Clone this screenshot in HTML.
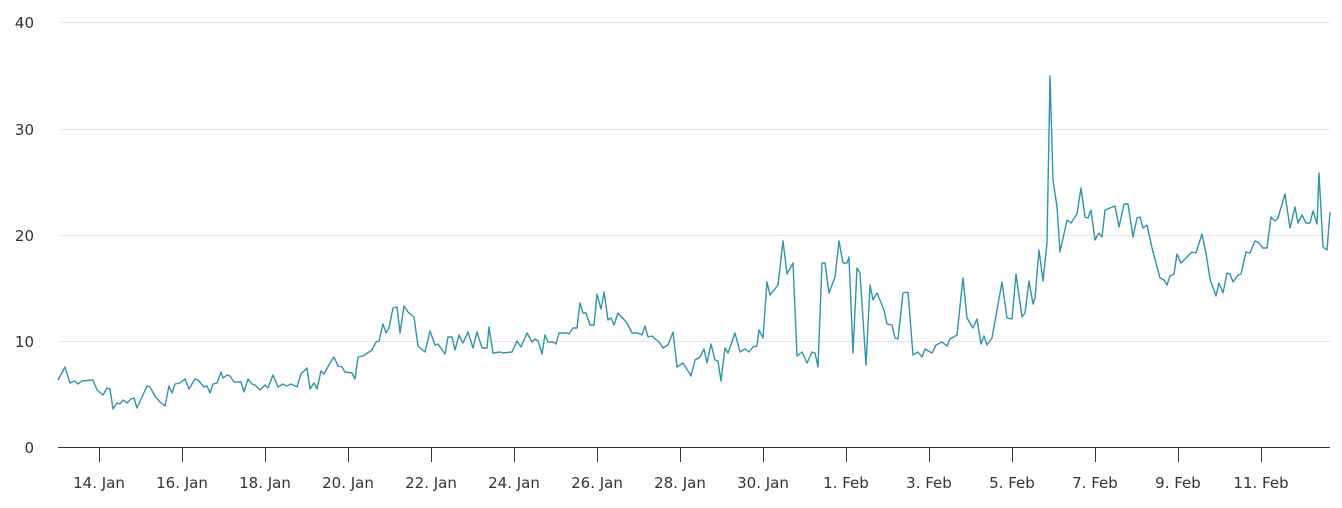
<!DOCTYPE html>
<html><head><style>body{margin:0;background:#fff}svg text{font-family:"DejaVu Sans","Liberation Sans",sans-serif;font-size:15px;fill:#333}</style></head><body>
<svg width="1342" height="503" viewBox="0 0 1342 503">
<g stroke="#e6e6e6" stroke-width="1">
<line x1="58" x2="1330" y1="22.5" y2="22.5"/><line x1="58" x2="1330" y1="129.5" y2="129.5"/><line x1="58" x2="1330" y1="235.5" y2="235.5"/><line x1="58" x2="1330" y1="341.5" y2="341.5"/>
</g>
<line x1="58" x2="1330" y1="447.5" y2="447.5" stroke="#333" stroke-width="1"/>
<g stroke="#333" stroke-width="1">
<line x1="99.5" x2="99.5" y1="447" y2="462"/><line x1="182.5" x2="182.5" y1="447" y2="462"/><line x1="265.5" x2="265.5" y1="447" y2="462"/><line x1="348.5" x2="348.5" y1="447" y2="462"/><line x1="431.5" x2="431.5" y1="447" y2="462"/><line x1="514.5" x2="514.5" y1="447" y2="462"/><line x1="597.5" x2="597.5" y1="447" y2="462"/><line x1="680.5" x2="680.5" y1="447" y2="462"/><line x1="763.5" x2="763.5" y1="447" y2="462"/><line x1="846.5" x2="846.5" y1="447" y2="462"/><line x1="929.5" x2="929.5" y1="447" y2="462"/><line x1="1012.5" x2="1012.5" y1="447" y2="462"/><line x1="1095.5" x2="1095.5" y1="447" y2="462"/><line x1="1178.5" x2="1178.5" y1="447" y2="462"/><line x1="1261.5" x2="1261.5" y1="447" y2="462"/>
</g>
<g text-anchor="end">
<text x="34" y="28">40</text><text x="34" y="135">30</text><text x="34" y="241">20</text><text x="34" y="347">10</text><text x="34" y="453">0</text>
</g>
<g text-anchor="middle">
<text x="99" y="488">14. Jan</text><text x="182" y="488">16. Jan</text><text x="265" y="488">18. Jan</text><text x="348" y="488">20. Jan</text><text x="431" y="488">22. Jan</text><text x="514" y="488">24. Jan</text><text x="597" y="488">26. Jan</text><text x="680" y="488">28. Jan</text><text x="763" y="488">30. Jan</text><text x="846" y="488">1. Feb</text><text x="929" y="488">3. Feb</text><text x="1012" y="488">5. Feb</text><text x="1095" y="488">7. Feb</text><text x="1178" y="488">9. Feb</text><text x="1261" y="488">11. Feb</text>
</g>
<polyline fill="none" stroke="#2e95a8" stroke-width="1.4" stroke-linejoin="round" points="58,380 65,367 70,383 75,381 78,384 82,381 93,380 97,390 103,395 107,388 110,389 113,409 117,403 120,404 123,400 127,403 131,399 134,398 137,408 142,397 147,386 150,387 155,396 160,402 165,406 169,386 172,393 175,384 180,383 185,379 189,389 195,379 198,380 204,387 207,386 210,393 213,384 217,383 221,372 223,378 227,375 230,376 234,382 241,382 244,392 248,379 252,384 255,385 260,390 265,385 268,388 273,375 278,387 283,384 287,386 291,384 297,387 301,374 307,368 310,389 314,383 317,389 321,371 324,374 330,363 334,357 338,366 342,367 345,372 352,373 355,379 358,357 363,356 372,350 376,342 379,341 383,324 386,333 389,328 393,308 397,307 400,333 404,306 408,312 414,317 418,346 425,352 430,331 435,345 438,344 445,354 448,337 452,337 455,350 459,335 463,343 468,332 473,348 477,332 482,348 487,348 489,327 493,353 500,352 503,353 512,352 517,341 521,347 527,333 532,342 535,339 538,341 542,354 545,335 548,342 553,342 556,344 559,333 567,333 569,334 573,328 577,328 580,303 583,313 586,313 590,325 594,325 597,294 601,309 604,292 608,320 611,318 614,325 618,313 627,323 632,333 638,333 642,335 645,326 648,337 652,336 660,343 663,348 668,345 673,332 677,367 683,363 691,376 695,360 700,357 704,349 707,363 711,344 715,360 718,361 721,381 725,348 728,353 735,333 740,352 745,349 749,352 753,347 757,346 759,330 763,338 767,282 770,295 778,285 783,241 787,274 793,263 797,356 802,352 807,363 812,352 815,353 818,367 822,263 825,263 829,293 835,277 839,241 843,263 847,263 849,257 853,353 857,268 860,273 866,365 870,285 873,300 877,293 884,310 887,324 892,325 895,338 898,339 903,293 908,292 913,355 918,352 922,357 925,349 932,353 936,345 942,342 947,346 950,339 957,335 963,278 967,318 973,328 977,319 981,344 984,336 987,345 992,338 997,310 1002,282 1007,318 1012,319 1016,274 1022,317 1025,313 1029,281 1033,304 1035,298 1039,250 1043,281 1047,243 1050,76 1053,180 1057,207 1060,252 1067,220 1071,223 1077,214 1081,188 1085,217 1088,218 1091,210 1095,240 1099,233 1102,237 1105,210 1115,206 1119,227 1124,204 1128,204 1133,237 1137,218 1140,217 1143,228 1147,225 1152,248 1160,278 1164,280 1167,285 1170,276 1174,274 1177,254 1181,263 1187,257 1192,252 1196,253 1202,234 1206,253 1210,279 1216,296 1219,283 1223,293 1227,273 1230,274 1233,282 1238,275 1241,274 1246,252 1250,253 1255,241 1258,242 1263,248 1267,248 1271,217 1275,221 1278,218 1285,194 1290,228 1295,207 1298,223 1302,215 1306,223 1310,223 1313,211 1317,224 1319,173 1323,247 1327,250 1330,212"/>
</svg>
</body></html>
